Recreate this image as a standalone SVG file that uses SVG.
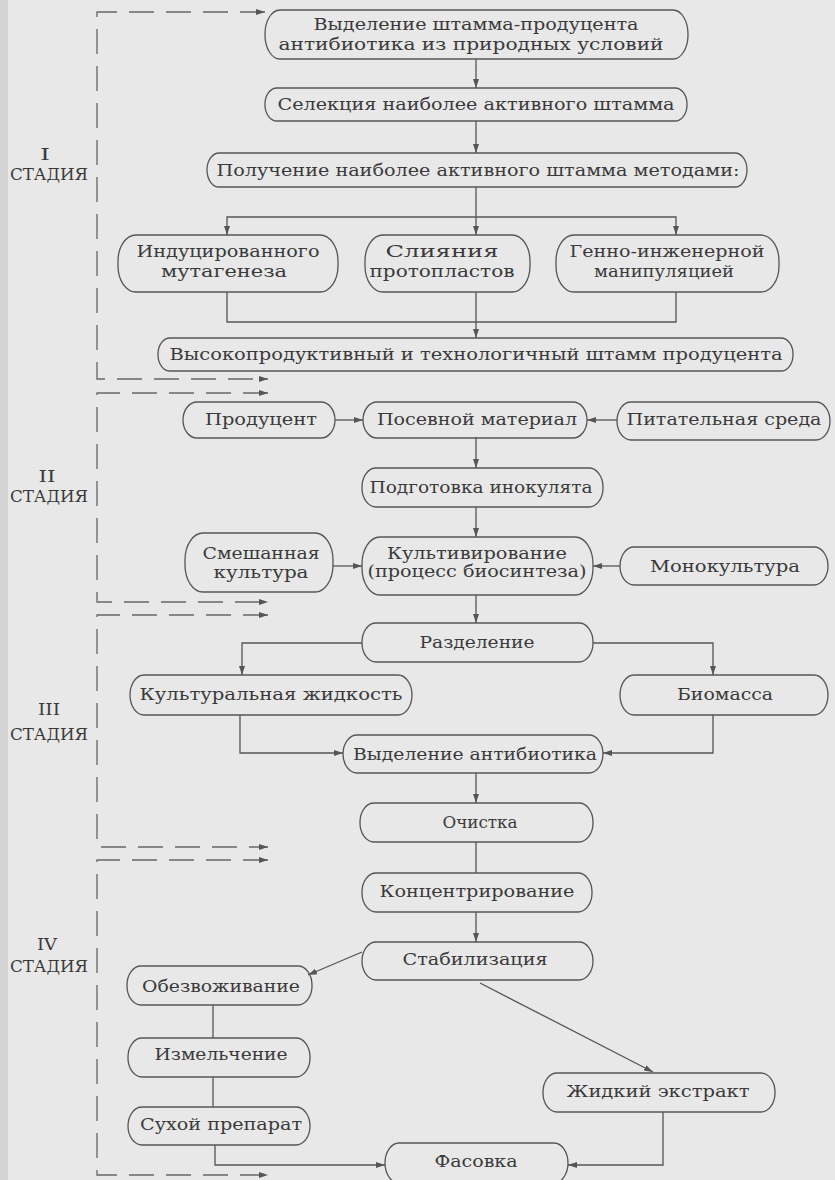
<svg xmlns="http://www.w3.org/2000/svg" width="835" height="1180" viewBox="0 0 835 1180">
<defs>
<marker id="arr" markerWidth="10" markerHeight="8" refX="9" refY="4" orient="auto-start-reverse" markerUnits="userSpaceOnUse">
<path d="M0,1 L9,4 L0,7 Z" fill="#555"/>
</marker>
<style>
.bg{fill:#e8e8e8}
.n rect{fill:none;stroke:#555;stroke-width:1.3}
text{font-family:"DejaVu Serif","Liberation Serif",serif;font-size:16px;fill:#3a3a3a;text-anchor:middle}
.c path,.c line{fill:none;stroke:#555;stroke-width:1.3}
.a{marker-end:url(#arr)}
.d{fill:none;stroke:#666;stroke-width:1.3;stroke-dasharray:25 12;marker-start:url(#arr);marker-end:url(#arr)}
</style>
</defs>
<rect class="bg" x="0" y="0" width="835" height="1180"/>
<rect x="0" y="0" width="8" height="1180" fill="#d4d4d4"/>

<g id="stages">
<text x="45" y="160" textLength="10" lengthAdjust="spacingAndGlyphs">I</text>
<text x="49" y="180" textLength="78" lengthAdjust="spacingAndGlyphs">СТАДИЯ</text>
<text x="47" y="482" textLength="17" lengthAdjust="spacingAndGlyphs">II</text>
<text x="49" y="502" textLength="78" lengthAdjust="spacingAndGlyphs">СТАДИЯ</text>
<text x="49" y="715" textLength="22" lengthAdjust="spacingAndGlyphs">III</text>
<text x="49" y="740" textLength="78" lengthAdjust="spacingAndGlyphs">СТАДИЯ</text>
<text x="47" y="950" textLength="20" lengthAdjust="spacingAndGlyphs">IV</text>
<text x="49" y="972" textLength="78" lengthAdjust="spacingAndGlyphs">СТАДИЯ</text>
</g>

<g id="dashed">
<path class="d" d="M265,12 L97,12 L97,379 L268,379"/>
<path class="d" d="M268,393 L97,393 L97,602 L268,602"/>
<path class="d" d="M268,615 L97,615 L97,847 L268,847"/>
<path class="d" d="M268,860 L97,860 L97,1175 L268,1175"/>
</g>

<g class="c" id="connectors">
<line class="a" x1="476" y1="59" x2="476" y2="88"/>
<line class="a" x1="476" y1="121" x2="476" y2="153"/>
<line class="a" x1="476" y1="187" x2="476" y2="235"/>
<path class="a" d="M476,217 L227,217 L227,235"/>
<path class="a" d="M476,217 L676,217 L676,235"/>
<path d="M227,292 L227,322 L676,322 L676,292"/>
<line class="a" x1="476" y1="292" x2="476" y2="338"/>
<line class="a" x1="335" y1="420" x2="363" y2="420"/>
<line class="a" x1="617" y1="420" x2="587" y2="420"/>
<line class="a" x1="476" y1="437" x2="476" y2="468"/>
<line class="a" x1="476" y1="507" x2="476" y2="537"/>
<line class="a" x1="333" y1="566" x2="362" y2="566"/>
<line class="a" x1="620" y1="566" x2="593" y2="566"/>
<line class="a" x1="476" y1="595" x2="476" y2="623"/>
<path class="a" d="M362,643 L242,643 L242,675"/>
<path class="a" d="M593,643 L713,643 L713,675"/>
<path class="a" d="M240,715 L240,753 L343,753"/>
<path class="a" d="M713,715 L713,753 L603,753"/>
<line class="a" x1="476" y1="773" x2="476" y2="803"/>
<line x1="476" y1="842" x2="476" y2="873"/>
<line class="a" x1="476" y1="912" x2="476" y2="942"/>
<line class="a" x1="362" y1="952" x2="308" y2="975"/>
<line class="a" x1="480" y1="983" x2="653" y2="1072"/>
<line x1="213" y1="1005" x2="213" y2="1038"/>
<line x1="213" y1="1077" x2="213" y2="1107"/>
<path class="a" d="M215,1145 L215,1165 L385,1165"/>
<path class="a" d="M663,1112 L663,1165 L568,1165"/>
</g>

<g class="n" id="n1"><rect x="265" y="10" width="423" height="49" rx="15" ry="24"/>
<text x="476" y="30" textLength="325" lengthAdjust="spacingAndGlyphs">Выделение штамма-продуцента</text>
<text x="471" y="50" textLength="385" lengthAdjust="spacingAndGlyphs">антибиотика из природных условий</text></g>
<g class="n" id="n2"><rect x="265" y="88" width="422" height="33" rx="12" ry="16"/>
<text x="476" y="110" textLength="397" lengthAdjust="spacingAndGlyphs">Селекция наиболее активного штамма</text></g>
<g class="n" id="n3"><rect x="207" y="153" width="540" height="34" rx="12" ry="17"/>
<text x="478" y="176" textLength="523" lengthAdjust="spacingAndGlyphs">Получение наиболее активного штамма методами:</text></g>
<g class="n" id="n4"><rect x="118" y="235" width="220" height="57" rx="18" ry="26"/>
<text x="228" y="257" textLength="183" lengthAdjust="spacingAndGlyphs">Индуцированного</text>
<text x="224" y="277" textLength="126" lengthAdjust="spacingAndGlyphs">мутагенеза</text></g>
<g class="n" id="n5"><rect x="365" y="235" width="165" height="57" rx="18" ry="26"/>
<text x="442" y="257" textLength="113" lengthAdjust="spacingAndGlyphs">Слияния</text>
<text x="442" y="277" textLength="145" lengthAdjust="spacingAndGlyphs">протопластов</text></g>
<g class="n" id="n6"><rect x="556" y="235" width="223" height="57" rx="18" ry="26"/>
<text x="667" y="257" textLength="195" lengthAdjust="spacingAndGlyphs">Генно-инженерной</text>
<text x="664" y="277" textLength="140" lengthAdjust="spacingAndGlyphs">манипуляцией</text></g>
<g class="n" id="n7"><rect x="158" y="338" width="635" height="33" rx="12" ry="16"/>
<text x="476" y="360" textLength="613" lengthAdjust="spacingAndGlyphs">Высокопродуктивный и технологичный штамм продуцента</text></g>
<g class="n" id="n8"><rect x="183" y="402" width="152" height="36" rx="14" ry="18"/>
<text x="261" y="425" textLength="112" lengthAdjust="spacingAndGlyphs">Продуцент</text></g>
<g class="n" id="n9"><rect x="363" y="402" width="224" height="36" rx="14" ry="18"/>
<text x="477" y="425" textLength="200" lengthAdjust="spacingAndGlyphs">Посевной материал</text></g>
<g class="n" id="n10"><rect x="617" y="402" width="213" height="38" rx="14" ry="19"/>
<text x="724" y="425" textLength="195" lengthAdjust="spacingAndGlyphs">Питательная среда</text></g>
<g class="n" id="n11"><rect x="362" y="468" width="241" height="39" rx="14" ry="19"/>
<text x="481" y="493" textLength="223" lengthAdjust="spacingAndGlyphs">Подготовка инокулята</text></g>
<g class="n" id="n12"><rect x="362" y="537" width="231" height="58" rx="18" ry="27"/>
<text x="477" y="559" textLength="180" lengthAdjust="spacingAndGlyphs">Культивирование</text>
<text x="477" y="577" textLength="219" lengthAdjust="spacingAndGlyphs">(процесс биосинтеза)</text></g>
<g class="n" id="n13"><rect x="185" y="533" width="148" height="59" rx="18" ry="27"/>
<text x="261" y="559" textLength="117" lengthAdjust="spacingAndGlyphs">Смешанная</text>
<text x="261" y="578" textLength="95" lengthAdjust="spacingAndGlyphs">культура</text></g>
<g class="n" id="n14"><rect x="620" y="547" width="208" height="38" rx="14" ry="19"/>
<text x="725" y="572" textLength="150" lengthAdjust="spacingAndGlyphs">Монокультура</text></g>
<g class="n" id="n15"><rect x="362" y="623" width="231" height="39" rx="14" ry="19"/>
<text x="477" y="648" textLength="115" lengthAdjust="spacingAndGlyphs">Разделение</text></g>
<g class="n" id="n16"><rect x="130" y="675" width="282" height="40" rx="14" ry="20"/>
<text x="271" y="700" textLength="263" lengthAdjust="spacingAndGlyphs">Культуральная жидкость</text></g>
<g class="n" id="n17"><rect x="620" y="675" width="208" height="40" rx="14" ry="20"/>
<text x="725" y="700" textLength="96" lengthAdjust="spacingAndGlyphs">Биомасса</text></g>
<g class="n" id="n18"><rect x="343" y="735" width="260" height="38" rx="14" ry="19"/>
<text x="475" y="760" textLength="244" lengthAdjust="spacingAndGlyphs">Выделение антибиотика</text></g>
<g class="n" id="n19"><rect x="360" y="803" width="233" height="39" rx="14" ry="19"/>
<text x="480" y="828" textLength="75" lengthAdjust="spacingAndGlyphs">Очистка</text></g>
<g class="n" id="n20"><rect x="362" y="873" width="230" height="39" rx="14" ry="19"/>
<text x="477" y="897" textLength="195" lengthAdjust="spacingAndGlyphs">Концентрирование</text></g>
<g class="n" id="n21"><rect x="362" y="942" width="231" height="38" rx="14" ry="19"/>
<text x="475" y="965" textLength="145" lengthAdjust="spacingAndGlyphs">Стабилизация</text></g>
<g class="n" id="n22"><rect x="127" y="966" width="185" height="39" rx="14" ry="19"/>
<text x="221" y="992" textLength="158" lengthAdjust="spacingAndGlyphs">Обезвоживание</text></g>
<g class="n" id="n23"><rect x="128" y="1038" width="182" height="39" rx="14" ry="19"/>
<text x="221" y="1060" textLength="133" lengthAdjust="spacingAndGlyphs">Измельчение</text></g>
<g class="n" id="n24"><rect x="128" y="1107" width="182" height="38" rx="14" ry="19"/>
<text x="221" y="1130" textLength="162" lengthAdjust="spacingAndGlyphs">Сухой препарат</text></g>
<g class="n" id="n25"><rect x="543" y="1073" width="232" height="39" rx="14" ry="19"/>
<text x="658" y="1097" textLength="183" lengthAdjust="spacingAndGlyphs">Жидкий экстракт</text></g>
<g class="n" id="n26"><rect x="385" y="1143" width="183" height="40" rx="14" ry="20"/>
<text x="476" y="1167" textLength="83" lengthAdjust="spacingAndGlyphs">Фасовка</text></g>
</svg>
